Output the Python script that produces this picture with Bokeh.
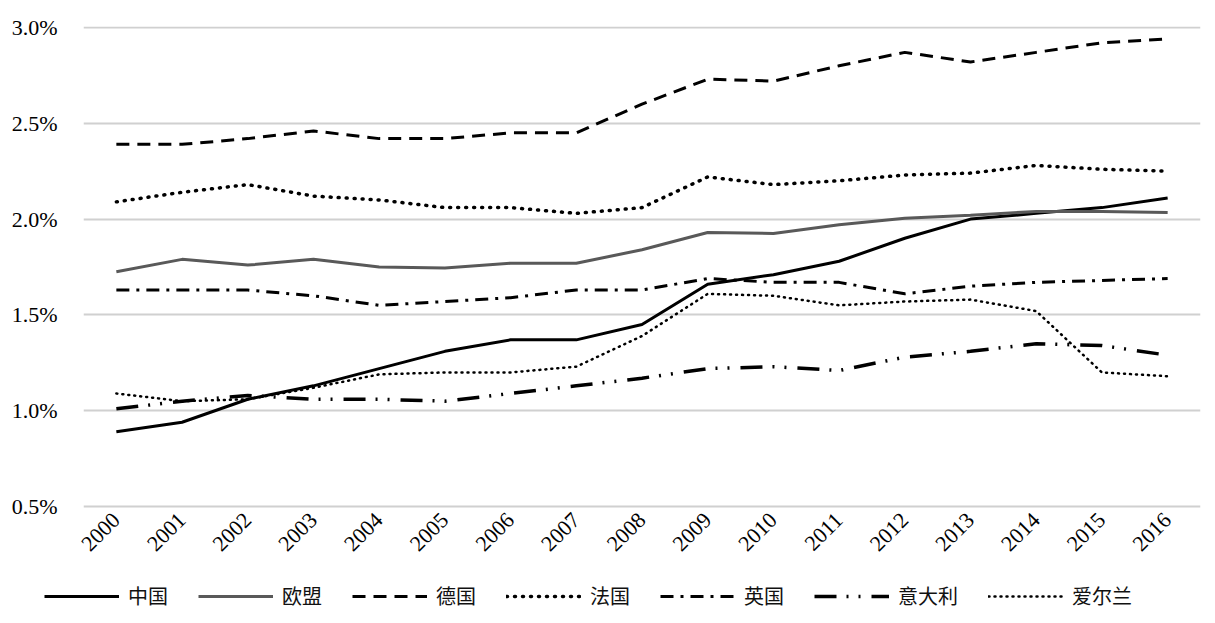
import math
from bokeh.plotting import figure
from bokeh.layouts import column
from bokeh.models import Range1d, FactorRange, Legend, LegendItem, PrintfTickFormatter, FixedTicker
from bokeh.embed import file_html
from bokeh.resources import INLINE

years = [str(y) for y in range(2000, 2017)]
china   = [0.89, 0.94, 1.06, 1.13, 1.22, 1.31, 1.37, 1.37, 1.45, 1.66, 1.71, 1.78, 1.90, 2.00, 2.03, 2.06, 2.11]
eu      = [1.725, 1.79, 1.76, 1.79, 1.75, 1.745, 1.77, 1.77, 1.84, 1.93, 1.925, 1.97, 2.005, 2.02, 2.04, 2.04, 2.035]
germany = [2.39, 2.39, 2.42, 2.46, 2.42, 2.42, 2.45, 2.45, 2.60, 2.73, 2.72, 2.80, 2.87, 2.82, 2.87, 2.92, 2.94]
france  = [2.09, 2.14, 2.18, 2.12, 2.10, 2.06, 2.06, 2.03, 2.06, 2.22, 2.18, 2.20, 2.23, 2.24, 2.28, 2.26, 2.25]
uk      = [1.63, 1.63, 1.63, 1.60, 1.55, 1.57, 1.59, 1.63, 1.63, 1.69, 1.67, 1.67, 1.61, 1.65, 1.67, 1.68, 1.69]
italy   = [1.01, 1.05, 1.08, 1.06, 1.06, 1.05, 1.09, 1.13, 1.17, 1.22, 1.23, 1.21, 1.28, 1.31, 1.35, 1.34, 1.29]
ireland = [1.09, 1.05, 1.06, 1.12, 1.19, 1.20, 1.20, 1.23, 1.39, 1.61, 1.60, 1.55, 1.57, 1.58, 1.52, 1.20, 1.18]
names = ["中国", "欧盟", "德国", "法国", "英国", "意大利", "爱尔兰"]
y_ticks = [0.5, 1.0, 1.5, 2.0, 2.5, 3.0]

W = 1207
p = figure(x_range=FactorRange(*years), y_range=Range1d(0.49, 3.005),
           width=W, height=577,
           output_backend="svg", toolbar_location=None,
           min_border_left=83, min_border_right=7, min_border_top=26, min_border_bottom=69)
p.outline_line_color = None
p.background_fill_color = "white"
p.border_fill_color = "white"

p.xgrid.grid_line_color = None
p.ygrid.grid_line_color = "#d0d0d0"
p.ygrid.grid_line_width = 2

p.yaxis.ticker = FixedTicker(ticks=y_ticks)
p.yaxis.formatter = PrintfTickFormatter(format="%.1f%%")
for ax in (p.xaxis[0], p.yaxis[0]):
    ax.axis_line_color = None
    ax.major_tick_line_color = None
    ax.minor_tick_line_color = None
    ax.major_label_text_font = "Liberation Serif"
    ax.major_label_text_font_size = "22px"
    ax.major_label_text_color = "black"
p.yaxis.major_label_standoff = 20
p.xaxis.major_label_orientation = math.pi / 4
p.xaxis.major_label_standoff = 2

styles = [
    dict(line_color="black",   line_width=3, line_dash="solid"),
    dict(line_color="#595959", line_width=3, line_dash="solid"),
    dict(line_color="black",   line_width=3, line_dash="13 8"),
    dict(line_color="black",   line_width=3.5, line_dash="1 7", line_cap="round"),
    dict(line_color="black",   line_width=3, line_dash="13 7 3 7"),
    dict(line_color="black",   line_width=3.5, line_dash="22 10 2 10 2 11"),
    dict(line_color="black",   line_width=2.5, line_dash="1 5", line_cap="round"),
]
series = [china, eu, germany, france, uk, italy, ireland]
for vals, style in zip(series, styles):
    p.line(years, vals, **style)

# legend strip below the chart (its lines lie outside its own view, only the legend shows)
lg = figure(width=W, height=38, x_range=FactorRange(*years), y_range=Range1d(-10, -9),
            x_axis_location=None, y_axis_location=None,
            output_backend="svg", toolbar_location=None,
            min_border_left=0, min_border_right=0, min_border_top=0, min_border_bottom=0)
try:
    lg.frame_align = False
except Exception:
    pass
lg.grid.visible = False
lg.outline_line_color = None
items = []
for vals, style, name in zip(series, styles, names):
    r = lg.line(years, vals, **style)
    items.append(LegendItem(label=name, renderers=[r]))
legend = Legend(items=items, orientation="horizontal", location=(44, 5))
legend.label_text_font = "Noto Sans CJK SC"
legend.label_text_font_size = "20px"
legend.label_text_color = "#111111"
legend.glyph_width = 75
legend.label_standoff = 9
legend.spacing = 30
legend.border_line_color = None
legend.background_fill_alpha = 0
legend.margin = 0
legend.padding = 4
lg.add_layout(legend, "center")

layout = column(p, lg, spacing=0)
open("out.html", "w").write(file_html(layout, INLINE))
